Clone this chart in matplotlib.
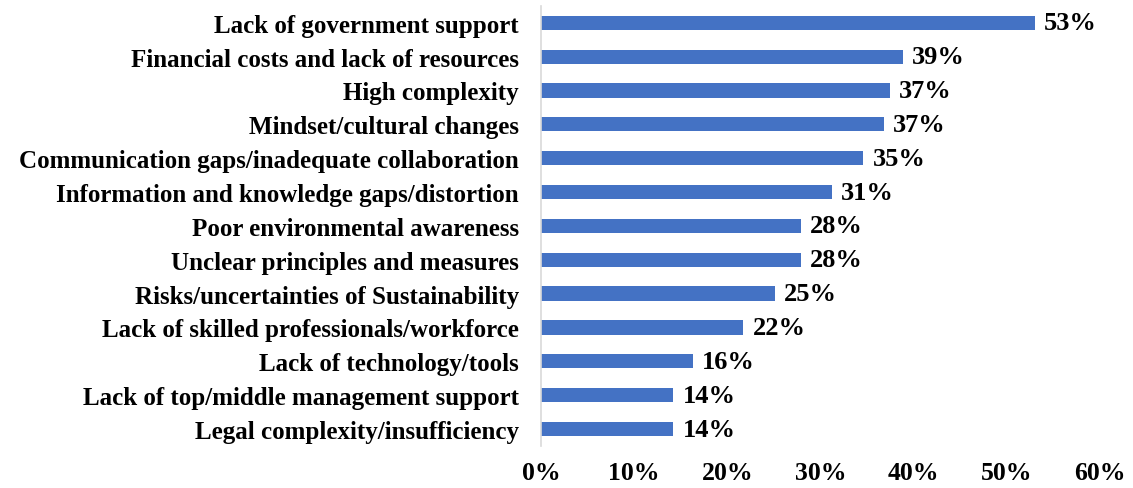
import matplotlib.pyplot as plt

categories = [
    "Lack of government support",
    "Financial costs and lack of resources",
    "High complexity",
    "Mindset/cultural changes",
    "Communication gaps/inadequate collaboration",
    "Information and knowledge gaps/distortion",
    "Poor environmental awareness",
    "Unclear principles and measures",
    "Risks/uncertainties of Sustainability",
    "Lack of skilled professionals/workforce",
    "Lack of technology/tools",
    "Lack of top/middle management support",
    "Legal complexity/insufficiency",
]
values = [53.0, 38.8, 37.4, 36.8, 34.6, 31.2, 27.9, 27.9, 25.1, 21.7, 16.3, 14.2, 14.2]
xticks = [0, 10, 20, 30, 40, 50, 60]

plt.rcParams["font.family"] = ["Liberation Serif", "DejaVu Serif"]
plt.rcParams["font.weight"] = "bold"

fig = plt.figure(figsize=(11.33, 4.89), dpi=100)
ax = fig.add_axes([0.4775, 0.086, 0.4935, 0.9])

y = list(range(len(categories)))
ax.barh(y, values, height=0.42, color="#4472C4")
for yi, v in zip(y, values):
    ax.text(v + 1.0, yi, f"{v:.0f}%", va="center", ha="left", fontsize=19, fontweight="bold")

ax.set_yticks(y)
ax.set_yticklabels(categories, fontsize=18, fontweight="bold")
ax.set_ylim(len(categories) - 0.5, -0.5)
ax.set_xlim(0, 60)
ax.set_xticks(xticks)
ax.set_xticklabels([f"{t}%" for t in xticks], fontsize=18.5, fontweight="bold")
ax.tick_params(axis="y", length=0, pad=16)
ax.tick_params(axis="x", length=0, pad=11)

for s in ["top", "right", "bottom"]:
    ax.spines[s].set_visible(False)
ax.spines["left"].set_color("#D9D9D9")
ax.spines["left"].set_linewidth(1.2)

fig.savefig("out.png", dpi=100)
